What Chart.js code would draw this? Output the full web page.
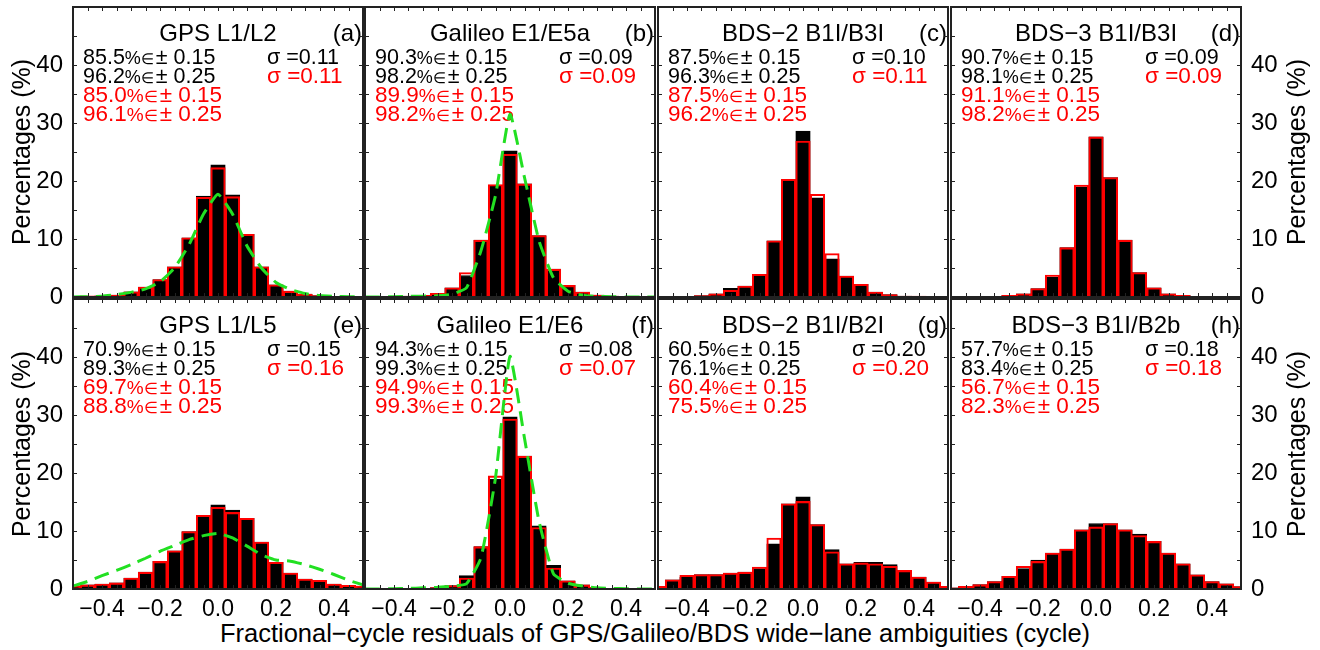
<!DOCTYPE html>
<html>
<head>
<meta charset="utf-8">
<script src="https://cdn.jsdelivr.net/npm/chart.js@4.4.0/dist/chart.umd.min.js"></script>
<style>
  body { margin: 0; background: #fff; width: 1320px; height: 650px; position: relative; overflow: hidden; font-family: 'Liberation Sans', Arial, sans-serif; }
  .panel { position: absolute; }
  #xtitle { position: absolute; left: 0; width: 1310px; top: 620px; line-height: 26px; font-size: 25.5px; text-align: center; color: #000; }
</style>
</head>
<body>
<div id="xtitle">Fractional−cycle residuals of GPS/Galileo/BDS wide−lane ambiguities (cycle)</div>
<script>
// bin centres (cycle)
const bins = [-0.5, -0.45, -0.4, -0.35, -0.3, -0.25, -0.2, -0.15, -0.1, -0.05, 0, 0.05, 0.1, 0.15, 0.2, 0.25, 0.3, 0.35, 0.4, 0.45, 0.5];

// percentages per bin, black = first solution, red = second solution, fit = green dashed curve
const gpsL12Black = [0.05, 0.1, 0.2, 0.35, 0.9, 1.7, 3.0, 5.2, 10.2, 17.4, 22.8, 17.6, 10.8, 5.2, 2.1, 1.0, 0.5, 0.25, 0.1, 0.05, 0.05];
const gpsL12Red   = [0.05, 0.2, 0.2, 0.35, 0.9, 1.7, 3.0, 5.2, 10.2, 17.2, 22.3, 17.3, 10.8, 5.2, 2.1, 1.0, 0.5, 0.25, 0.1, 0.05, 0.05];
const gpsL12Fit   = [0, 0.05, 0.15, 0.4, 0.8, 1.4, 2.6, 5.0, 9.0, 14.3, 17.7, 14.3, 8.8, 5.0, 2.5, 1.3, 0.6, 0.25, 0.1, 0.05, 0];

const galE5aBlack = [0.05, 0.05, 0.1, 0.15, 0.3, 0.55, 1.6, 3.7, 9.8, 19.1, 25.2, 19.5, 10.6, 4.8, 2.0, 0.85, 0.35, 0.15, 0.1, 0.05, 0.05];
const galE5aRed   = [0.05, 0.05, 0.1, 0.15, 0.3, 0.65, 1.6, 4.2, 9.8, 19.4, 24.6, 19.5, 10.6, 4.8, 2.0, 0.85, 0.35, 0.15, 0.1, 0.05, 0.05];
const galE5aFit   = [0, 0, 0.05, 0.1, 0.15, 0.2, 0.5, 1.6, 8.0, 17.5, 31.5, 20.6, 9.7, 3.3, 1.0, 0.3, 0.1, 0.05, 0, 0, 0];

const bds2B3Black = [0.05, 0.05, 0.12, 0.25, 0.55, 1.5, 1.9, 3.9, 9.7, 20.0, 28.6, 17.1, 6.6, 3.6, 2.2, 0.85, 0.4, 0.15, 0.12, 0.1, 0];
const bds2B3Red   = [0.05, 0.05, 0.12, 0.25, 0.55, 1.15, 1.9, 3.9, 9.7, 20.3, 26.9, 17.7, 7.5, 3.6, 2.2, 0.85, 0.4, 0.15, 0.15, 0.1, 0];

const bds3B3Black = [0.05, 0.05, 0.1, 0.1, 0.3, 0.55, 1.45, 3.45, 8.5, 19.0, 27.6, 20.6, 9.8, 4.2, 1.6, 0.55, 0.3, 0.1, 0.1, 0.05, 0.05];
const bds3B3Red   = [0.05, 0.05, 0.1, 0.1, 0.3, 0.55, 1.45, 3.8, 8.5, 19.3, 27.6, 20.6, 9.8, 4.2, 1.6, 0.55, 0.3, 0.1, 0.1, 0.05, 0.05];

const gpsL15Black = [0.55, 0.7, 0.85, 1.05, 1.9, 2.9, 4.75, 6.6, 9.9, 12.7, 14.5, 13.6, 12.2, 8.1, 4.6, 2.75, 1.7, 1.5, 0.85, 0.65, 0.5];
const gpsL15Red   = [0.55, 0.7, 0.85, 1.05, 1.9, 2.9, 4.75, 6.6, 9.9, 12.7, 14.1, 13.2, 12.2, 8.1, 4.6, 2.75, 1.7, 1.5, 0.85, 0.65, 0.5];
const gpsL15Fit   = [0.5, 1.3, 2.3, 3.2, 4.2, 5.3, 6.5, 7.5, 8.5, 9.2, 9.6, 8.8, 7.4, 5.9, 5.0, 4.8, 4.2, 3.4, 2.5, 1.5, 0.7];

const galE6Black  = [0.05, 0.05, 0.05, 0.05, 0.1, 0.25, 0.6, 2.3, 7.3, 18.9, 29.7, 22.9, 10.9, 4.1, 1.4, 0.7, 0.3, 0.1, 0.05, 0.05, 0.05];
const galE6Red    = [0.05, 0.05, 0.05, 0.05, 0.1, 0.25, 0.6, 1.9, 7.3, 19.5, 29.3, 22.9, 10.6, 3.6, 1.4, 0.7, 0.3, 0.1, 0.05, 0.05, 0.05];
const galE6Fit    = [0, 0, 0.05, 0.1, 0.2, 0.3, 0.5, 0.9, 5.4, 19.2, 40.1, 26.0, 11.7, 2.6, 1.0, 0.5, 0.2, 0.1, 0.05, 0, 0];

const bds2B2Black = [0.45, 1.6, 2.05, 2.5, 2.5, 2.75, 2.9, 3.5, 7.8, 14.7, 15.9, 11.1, 6.8, 4.35, 4.6, 4.6, 4.2, 3.2, 2.05, 1.2, 0.45];
const bds2B2Red   = [0.45, 1.6, 2.35, 2.5, 2.5, 2.75, 2.9, 3.8, 8.8, 14.7, 15.1, 11.1, 6.4, 4.35, 4.5, 4.35, 3.9, 3.2, 2.05, 1.2, 0.45];

const bds3B2bBlack = [0.2, 0.45, 0.75, 1.3, 2.2, 3.5, 5.0, 6.2, 6.9, 10.2, 11.3, 11.3, 10.2, 9.45, 8.2, 6.2, 4.35, 2.45, 1.3, 0.9, 0.4];
const bds3B2bRed   = [0.2, 0.45, 0.75, 1.3, 2.2, 3.9, 4.75, 6.2, 6.9, 10.2, 10.7, 11.3, 10.2, 9.2, 8.2, 6.2, 4.35, 2.45, 1.3, 0.9, 0.4];

const panelTitles = ['GPS L1/L2', 'Galileo E1/E5a', 'BDS−2 B1I/B3I', 'BDS−3 B1I/B3I', 'GPS L1/L5', 'Galileo E1/E6', 'BDS−2 B1I/B2I', 'BDS−3 B1I/B2b'];
const panelTags = ['(a)', '(b)', '(c)', '(d)', '(e)', '(f)', '(g)', '(h)'];
const blackPct15 = ['85.5', '90.3', '87.5', '90.7', '70.9', '94.3', '60.5', '57.7'];
const blackPct25 = ['96.2', '98.2', '96.3', '98.1', '89.3', '99.3', '76.1', '83.4'];
const redPct15 = ['85.0', '89.9', '87.5', '91.1', '69.7', '94.9', '60.4', '56.7'];
const redPct25 = ['96.1', '98.2', '96.2', '98.2', '88.8', '99.3', '75.5', '82.3'];
const blackSigma = ['0.11', '0.09', '0.10', '0.09', '0.15', '0.08', '0.20', '0.18'];
const redSigma = ['0.11', '0.09', '0.11', '0.09', '0.16', '0.07', '0.20', '0.18'];

const blackSeries = [gpsL12Black, galE5aBlack, bds2B3Black, bds3B3Black, gpsL15Black, galE6Black, bds2B2Black, bds3B2bBlack];
const redSeries = [gpsL12Red, galE5aRed, bds2B3Red, bds3B3Red, gpsL15Red, galE6Red, bds2B2Red, bds3B2bRed];
const fitSeries = [gpsL12Fit, galE5aFit, null, null, gpsL15Fit, galE6Fit, null, null];

const xTickLabels = [-0.4, -0.2, 0, 0.2, 0.4];

const FONT = "'Liberation Sans', Arial, sans-serif";
const RED = '#ff0000';
const GREEN = '#22e022';

// layout of the 2x4 grid
const colLeft = [73, 365, 658, 951];
const rowTop = [7, 299];
const W = 290, H = 290;

Chart.defaults.font.family = FONT;
Chart.defaults.color = '#000';

function toPoints(vals) {
    return vals.map((v, i) => ({ x: bins[i], y: v }));
}

function statLine(ctx, x, y, num, tail, size, color) {
    ctx.fillStyle = color;
    ctx.textAlign = 'left';
    ctx.font = size + 'px ' + FONT;
    ctx.fillText(num, x, y);
    x += ctx.measureText(num).width;
    ctx.font = Math.round(size * 0.85) + 'px ' + FONT;
    ctx.fillText('%', x, y);
    x += ctx.measureText('%').width;
    ctx.font = Math.round(size * 0.7) + 'px ' + FONT;
    ctx.fillText('∈', x, y);
    x += ctx.measureText('∈').width + 2;
    ctx.font = size + 'px ' + FONT;
    ctx.fillText('± ' + tail, x, y);
}

// texts inside the panel, under the curves
const panelText = {
    id: 'panelText',
    beforeDatasetsDraw(chart, args, opts) {
        const ctx = chart.ctx;
        const a = chart.chartArea;
        const i = opts.idx;
        ctx.save();
        ctx.textBaseline = 'alphabetic';
        ctx.fillStyle = '#000';
        ctx.font = '24px ' + FONT;
        ctx.textAlign = 'center';
        ctx.fillText(panelTitles[i], (a.left + a.right) / 2, a.top + 34);
        ctx.textAlign = 'right';
        ctx.fillText(panelTags[i], a.right - 1, a.top + 34);

        const x0 = a.left + 10;
        statLine(ctx, x0, a.top + 57, blackPct15[i], '0.15', 21.5, '#000');
        statLine(ctx, x0, a.top + 76, blackPct25[i], '0.25', 21.5, '#000');
        statLine(ctx, x0, a.top + 95, redPct15[i], '0.15', 22.5, RED);
        statLine(ctx, x0, a.top + 114, redPct25[i], '0.25', 22.5, RED);

        ctx.textAlign = 'left';
        ctx.font = '21.5px ' + FONT;
        ctx.fillStyle = '#000';
        ctx.fillText('σ =' + blackSigma[i], a.left + 194, a.top + 57);
        ctx.font = '22.5px ' + FONT;
        ctx.fillStyle = RED;
        ctx.fillText('σ =' + redSigma[i], a.left + 194, a.top + 76);
        ctx.restore();
    },
    // frame and inward ticks
    afterDatasetsDraw(chart, args, opts) {
        const ctx = chart.ctx;
        const a = chart.chartArea;
        const xs = chart.scales.x, ys = chart.scales.y;
        ctx.save();
        ctx.strokeStyle = '#222';
        ctx.lineWidth = 1;
        ctx.beginPath();
        for (let k = -9; k <= 9; k++) {
            const px = Math.round(xs.getPixelForValue(k * 0.05)) + 0.5;
            ctx.moveTo(px, a.top); ctx.lineTo(px, a.top + 4);
            ctx.moveTo(px, a.bottom); ctx.lineTo(px, a.bottom - 4);
        }
        for (let v = 5; v < 50; v += 5) {
            const py = Math.round(ys.getPixelForValue(v)) + 0.5;
            ctx.moveTo(a.left, py); ctx.lineTo(a.left + 4, py);
            ctx.moveTo(a.right, py); ctx.lineTo(a.right - 4, py);
        }
        ctx.stroke();
        ctx.lineWidth = 2;
        ctx.strokeRect(a.left, a.top, a.right - a.left, a.bottom - a.top);

        if (opts.rightTitle) {
            ctx.translate(a.right + 57, (a.top + a.bottom) / 2);
            ctx.rotate(-Math.PI / 2);
            ctx.fillStyle = '#000';
            ctx.font = '25px ' + FONT;
            ctx.textAlign = 'center';
            ctx.textBaseline = 'middle';
            ctx.fillText('Percentages (%)', 0, 0);
        }
        ctx.restore();
    }
};

for (let i = 0; i < 8; i++) {
    const col = i % 4, row = Math.floor(i / 4);
    const padL = col === 0 ? 73 : 20;
    const padR = col === 3 ? 79 : 20;
    const padT = row === 0 ? 7 : 20;
    const padB = row === 1 ? 61 : 20;
    const xShown = row === 1;
    const yShown = col === 0 || col === 3;

    const box = document.createElement('div');
    box.className = 'panel';
    box.style.left = (colLeft[col] - padL) + 'px';
    box.style.top = (rowTop[row] - padT) + 'px';
    box.style.width = (W + padL + padR) + 'px';
    box.style.height = (H + padT + padB) + 'px';
    const cv = document.createElement('canvas');
    box.appendChild(cv);
    document.body.appendChild(box);

    const datasets = [];
    if (fitSeries[i]) {
        datasets.push({
            type: 'line',
            data: toPoints(fitSeries[i]),
            borderColor: GREEN,
            borderWidth: 3,
            borderDash: [15, 8],
            pointRadius: 0,
            fill: false,
            tension: 0.15,
            clip: 0,
            order: 0
        });
    }
    datasets.push({
        data: toPoints(redSeries[i]),
        backgroundColor: 'rgba(0,0,0,0)',
        borderColor: RED,
        borderWidth: 1.4,
        grouped: false,
        barPercentage: 1,
        categoryPercentage: 1,
        clip: 0,
        order: 1
    });
    datasets.push({
        data: toPoints(blackSeries[i]),
        backgroundColor: '#000',
        borderColor: '#000',
        borderWidth: 1,
        grouped: false,
        barPercentage: 1,
        categoryPercentage: 1,
        clip: 0,
        order: 2
    });

    new Chart(cv, {
        type: 'bar',
        data: { datasets: datasets },
        plugins: [panelText],
        options: {
            responsive: true,
            maintainAspectRatio: false,
            animation: false,
            devicePixelRatio: 1,
            layout: {
                padding: {
                    left: col === 0 ? 0 : padL,
                    right: col === 3 ? 0 : padR,
                    top: padT,
                    bottom: row === 1 ? padB - 38 : padB
                }
            },
            plugins: {
                legend: { display: false },
                tooltip: { enabled: false },
                panelText: { idx: i, rightTitle: col === 3 }
            },
            scales: {
                x: {
                    type: 'linear',
                    min: -0.5,
                    max: 0.5,
                    offset: false,
                    display: xShown,
                    grid: { display: false, drawTicks: false, offset: false },
                    border: { display: false },
                    ticks: {
                        padding: 7,
                        autoSkip: false,
                        maxRotation: 0,
                        font: { size: 23 },
                        color: '#000',
                        callback: v => (v < 0 ? '−' : '') + Math.abs(v).toFixed(1)
                    },
                    afterBuildTicks: s => { s.ticks = xTickLabels.map(v => ({ value: v })); },
                    afterFit: s => { s.height = xShown ? 38 : 0; s.paddingLeft = 0; s.paddingRight = 0; }
                },
                y: {
                    min: 0,
                    max: 50,
                    position: col === 3 ? 'right' : 'left',
                    display: yShown,
                    grid: { display: false, drawTicks: false },
                    border: { display: false },
                    ticks: {
                        stepSize: 10,
                        padding: 10,
                        font: { size: 24 },
                        color: '#000'
                    },
                    title: {
                        display: col === 0,
                        text: 'Percentages (%)',
                        font: { size: 25 },
                        color: '#000',
                        padding: { top: 8, bottom: 0 }
                    },
                    afterBuildTicks: s => { s.ticks = s.ticks.filter(t => t.value < 50); },
                    afterFit: s => {
                        s.width = yShown ? (col === 0 ? 73 : 79) : 0;
                        s.paddingTop = 0; s.paddingBottom = 0;
                    }
                }
            }
        }
    });
}
</script>
</body>
</html>
